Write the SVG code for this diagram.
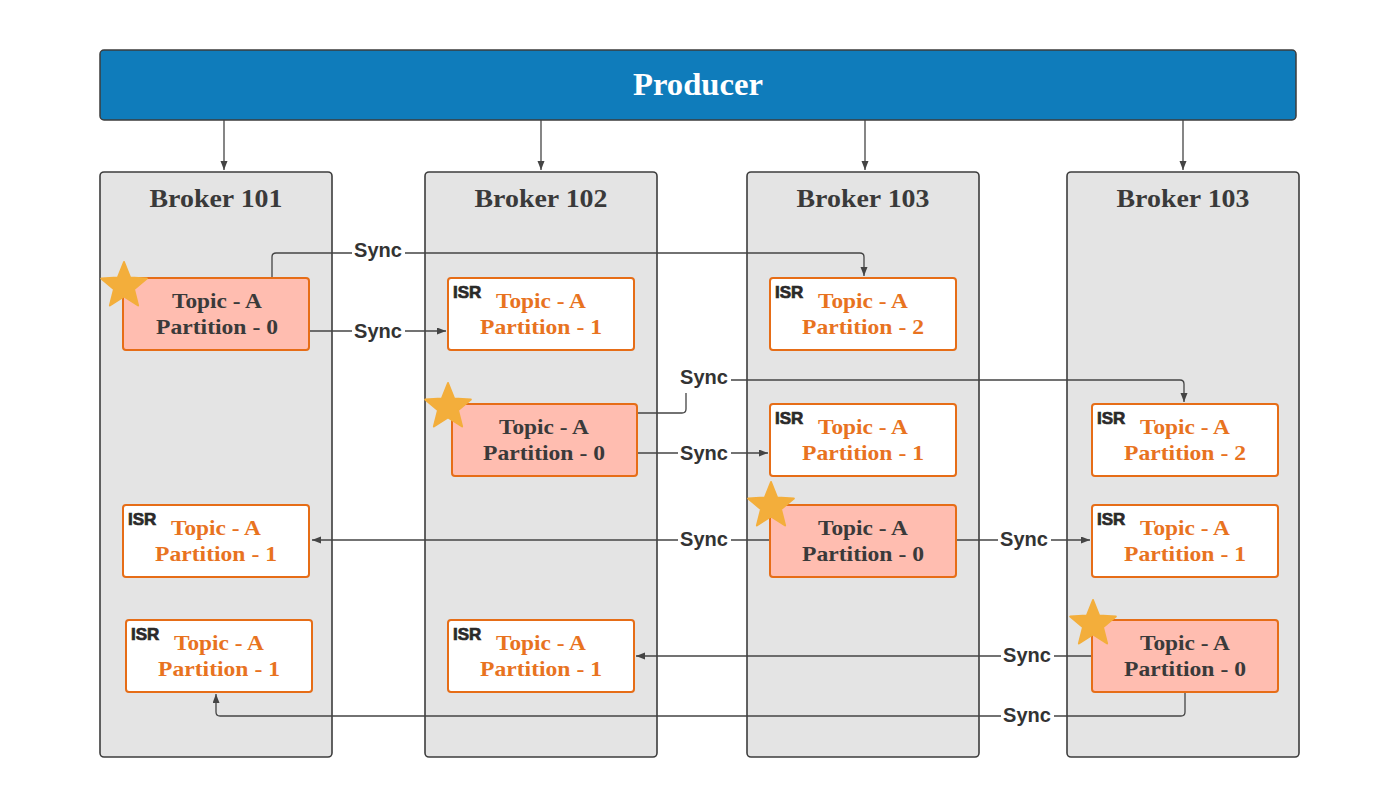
<svg xmlns="http://www.w3.org/2000/svg" width="1400" height="809" viewBox="0 0 1400 809">
<style>
.broker{fill:#e4e4e4;stroke:#3d3d3d;stroke-width:1.6}
.bt{font-family:"Liberation Serif",serif;font-weight:bold;font-size:26px;fill:#3a3a3a;text-anchor:middle}
.leader{fill:#ffbdb0;stroke:#e66d17;stroke-width:2}
.isr{fill:#ffffff;stroke:#e66d17;stroke-width:2}
.lt{font-family:"Liberation Serif",serif;font-weight:bold;font-size:22px;fill:#3a3a3a;text-anchor:middle}
.it{font-family:"Liberation Serif",serif;font-weight:bold;font-size:22px;fill:#e8731f;text-anchor:middle}
.isrl{font-family:"Liberation Sans",sans-serif;font-weight:bold;font-size:17px;fill:#2a2a2a;stroke:#2a2a2a;stroke-width:0.7}
.conn{fill:none;stroke:#444;stroke-width:1.3}
.sync{font-family:"Liberation Sans",sans-serif;font-weight:bold;font-size:20px;fill:#333;text-anchor:middle}
.lbg{fill:#ffffff}
.star{fill:#f3ae3b;stroke:#f3ae3b;stroke-width:2;stroke-linejoin:round}
</style>
<defs>
<marker id="arr" markerUnits="userSpaceOnUse" markerWidth="10" markerHeight="8" refX="9" refY="3.5" orient="auto">
<path d="M0,0 L9,3.5 L0,7 z" fill="#444"/>
</marker>
<path id="star" class="star" d="M0,-24 L6.17,-8.49 L22.83,-7.42 L9.99,3.24 L14.11,19.42 L0,10.5 L-14.11,19.42 L-9.99,3.24 L-22.83,-7.42 L-6.17,-8.49 Z"/>
</defs>
<rect width="1400" height="809" fill="#ffffff"/>

<g id="producer">
<rect x="100" y="50" width="1196" height="70" rx="4" fill="#0f7cbb" stroke="#3d3d3d" stroke-width="1.5"/>
<text x="698" y="95" font-family="Liberation Serif, serif" font-size="31" fill="#ffffff" text-anchor="middle" font-weight="bold" textLength="130" lengthAdjust="spacingAndGlyphs">Producer</text>
</g>

<g id="broker-101">
<rect class="broker" x="100" y="172" width="232" height="585" rx="4"/>
<text class="bt" x="216" y="207" textLength="133" lengthAdjust="spacingAndGlyphs">Broker 101</text>
</g>
<g id="broker-102">
<rect class="broker" x="425" y="172" width="232" height="585" rx="4"/>
<text class="bt" x="541" y="207" textLength="133" lengthAdjust="spacingAndGlyphs">Broker 102</text>
</g>
<g id="broker-103a">
<rect class="broker" x="747" y="172" width="232" height="585" rx="4"/>
<text class="bt" x="863" y="207" textLength="133" lengthAdjust="spacingAndGlyphs">Broker 103</text>
</g>
<g id="broker-103b">
<rect class="broker" x="1067" y="172" width="232" height="585" rx="4"/>
<text class="bt" x="1183" y="207" textLength="133" lengthAdjust="spacingAndGlyphs">Broker 103</text>
</g>

<g id="connectors">
<path class="conn" d="M224,120 V170" marker-end="url(#arr)"/>
<path class="conn" d="M541,120 V170" marker-end="url(#arr)"/>
<path class="conn" d="M865,120 V170" marker-end="url(#arr)"/>
<path class="conn" d="M1183,120 V170" marker-end="url(#arr)"/>

<path class="conn" d="M272,278 V257 Q272,253 276,253 H860 Q864,253 864,257 V276" marker-end="url(#arr)"/>
<path class="conn" d="M309,331 H446" marker-end="url(#arr)"/>
<path class="conn" d="M637,413 H682 Q686,413 686,409 V380 H1180 Q1184,380 1184,384 V402" marker-end="url(#arr)"/>
<path class="conn" d="M637,453 H768" marker-end="url(#arr)"/>
<path class="conn" d="M770,540 H312" marker-end="url(#arr)"/>
<path class="conn" d="M956,540 H1090" marker-end="url(#arr)"/>
<path class="conn" d="M1092,656 H636" marker-end="url(#arr)"/>
<path class="conn" d="M1185,692 V712 Q1185,716 1181,716 H220 Q216,716 216,712 V694" marker-end="url(#arr)"/>

<rect class="lbg" x="352" y="239" width="53" height="22"/>
<text class="sync" x="378" y="257">Sync</text>
<rect class="lbg" x="352" y="320" width="53" height="22"/>
<text class="sync" x="378" y="338">Sync</text>
<rect class="lbg" x="678" y="366" width="53" height="27"/>
<text class="sync" x="704" y="384">Sync</text>
<rect class="lbg" x="678" y="442" width="53" height="22"/>
<text class="sync" x="704" y="460">Sync</text>
<rect class="lbg" x="678" y="528" width="53" height="22"/>
<text class="sync" x="704" y="546">Sync</text>
<rect class="lbg" x="998" y="528" width="53" height="22"/>
<text class="sync" x="1024" y="546">Sync</text>
<rect class="lbg" x="1001" y="644" width="53" height="22"/>
<text class="sync" x="1027" y="662">Sync</text>
<rect class="lbg" x="1001" y="704" width="53" height="22"/>
<text class="sync" x="1027" y="722">Sync</text>
</g>

<g id="b101-p0">
<rect class="leader" x="123" y="278" width="186" height="72" rx="3"/>
<text class="lt" x="217" y="308" textLength="90" lengthAdjust="spacingAndGlyphs">Topic - A</text>
<text class="lt" x="217" y="334" textLength="122" lengthAdjust="spacingAndGlyphs">Partition - 0</text>
<use href="#star" x="124" y="286"/>
</g>
<g id="b101-p1a">
<rect class="isr" x="123" y="505" width="186" height="72" rx="3"/>
<text class="isrl" x="128" y="525">ISR</text>
<text class="it" x="216" y="535" textLength="90" lengthAdjust="spacingAndGlyphs">Topic - A</text>
<text class="it" x="216" y="561" textLength="122" lengthAdjust="spacingAndGlyphs">Partition - 1</text>
</g>
<g id="b101-p1b">
<rect class="isr" x="126" y="620" width="186" height="72" rx="3"/>
<text class="isrl" x="131" y="640">ISR</text>
<text class="it" x="219" y="650" textLength="90" lengthAdjust="spacingAndGlyphs">Topic - A</text>
<text class="it" x="219" y="676" textLength="122" lengthAdjust="spacingAndGlyphs">Partition - 1</text>
</g>

<g id="b102-p1a">
<rect class="isr" x="448" y="278" width="186" height="72" rx="3"/>
<text class="isrl" x="453" y="298">ISR</text>
<text class="it" x="541" y="308" textLength="90" lengthAdjust="spacingAndGlyphs">Topic - A</text>
<text class="it" x="541" y="334" textLength="122" lengthAdjust="spacingAndGlyphs">Partition - 1</text>
</g>
<g id="b102-p0">
<rect class="leader" x="452" y="404" width="185" height="72" rx="3"/>
<text class="lt" x="544" y="434" textLength="90" lengthAdjust="spacingAndGlyphs">Topic - A</text>
<text class="lt" x="544" y="460" textLength="122" lengthAdjust="spacingAndGlyphs">Partition - 0</text>
<use href="#star" x="448" y="407"/>
</g>
<g id="b102-p1b">
<rect class="isr" x="448" y="620" width="186" height="72" rx="3"/>
<text class="isrl" x="453" y="640">ISR</text>
<text class="it" x="541" y="650" textLength="90" lengthAdjust="spacingAndGlyphs">Topic - A</text>
<text class="it" x="541" y="676" textLength="122" lengthAdjust="spacingAndGlyphs">Partition - 1</text>
</g>

<g id="b103a-p2">
<rect class="isr" x="770" y="278" width="186" height="72" rx="3"/>
<text class="isrl" x="775" y="298">ISR</text>
<text class="it" x="863" y="308" textLength="90" lengthAdjust="spacingAndGlyphs">Topic - A</text>
<text class="it" x="863" y="334" textLength="122" lengthAdjust="spacingAndGlyphs">Partition - 2</text>
</g>
<g id="b103a-p1">
<rect class="isr" x="770" y="404" width="186" height="72" rx="3"/>
<text class="isrl" x="775" y="424">ISR</text>
<text class="it" x="863" y="434" textLength="90" lengthAdjust="spacingAndGlyphs">Topic - A</text>
<text class="it" x="863" y="460" textLength="122" lengthAdjust="spacingAndGlyphs">Partition - 1</text>
</g>
<g id="b103a-p0">
<rect class="leader" x="770" y="505" width="186" height="72" rx="3"/>
<text class="lt" x="863" y="535" textLength="90" lengthAdjust="spacingAndGlyphs">Topic - A</text>
<text class="lt" x="863" y="561" textLength="122" lengthAdjust="spacingAndGlyphs">Partition - 0</text>
<use href="#star" x="771" y="506"/>
</g>

<g id="b103b-p2">
<rect class="isr" x="1092" y="404" width="186" height="72" rx="3"/>
<text class="isrl" x="1097" y="424">ISR</text>
<text class="it" x="1185" y="434" textLength="90" lengthAdjust="spacingAndGlyphs">Topic - A</text>
<text class="it" x="1185" y="460" textLength="122" lengthAdjust="spacingAndGlyphs">Partition - 2</text>
</g>
<g id="b103b-p1">
<rect class="isr" x="1092" y="505" width="186" height="72" rx="3"/>
<text class="isrl" x="1097" y="525">ISR</text>
<text class="it" x="1185" y="535" textLength="90" lengthAdjust="spacingAndGlyphs">Topic - A</text>
<text class="it" x="1185" y="561" textLength="122" lengthAdjust="spacingAndGlyphs">Partition - 1</text>
</g>
<g id="b103b-p0">
<rect class="leader" x="1092" y="620" width="186" height="72" rx="3"/>
<text class="lt" x="1185" y="650" textLength="90" lengthAdjust="spacingAndGlyphs">Topic - A</text>
<text class="lt" x="1185" y="676" textLength="122" lengthAdjust="spacingAndGlyphs">Partition - 0</text>
<use href="#star" x="1093" y="624"/>
</g>
</svg>
